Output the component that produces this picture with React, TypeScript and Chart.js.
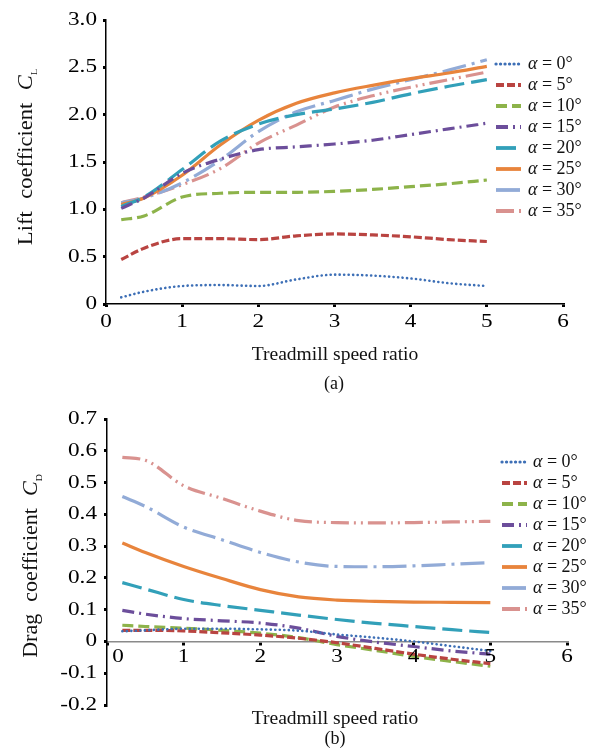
import React, { useEffect, useRef } from 'react';
import { Chart, registerables } from 'chart.js';

Chart.register(...registerables);

// ---------------- data ----------------
const speedRatio = [0.2, 0.5, 1, 1.5, 2, 2.5, 3, 3.5, 4, 4.5, 5];
const angles = [0, 5, 10, 15, 20, 25, 30, 35];
const xTicks = [0, 1, 2, 3, 4, 5, 6];
const liftTicks = [0, 0.5, 1.0, 1.5, 2.0, 2.5, 3.0];
const dragTicks = [-0.2, -0.1, 0, 0.1, 0.2, 0.3, 0.4, 0.5, 0.6, 0.7];

const liftA0 = [0.07, 0.13, 0.19, 0.2, 0.19, 0.26, 0.31, 0.3, 0.27, 0.22, 0.19];
const liftA5 = [0.47, 0.59, 0.69, 0.69, 0.68, 0.72, 0.74, 0.73, 0.71, 0.68, 0.66];
const liftA10 = [0.89, 0.93, 1.13, 1.17, 1.18, 1.18, 1.19, 1.21, 1.24, 1.27, 1.31];
const liftA15 = [1.01, 1.12, 1.38, 1.53, 1.63, 1.66, 1.69, 1.73, 1.79, 1.85, 1.91];
const liftA20 = [1.03, 1.13, 1.42, 1.72, 1.9, 2.0, 2.06, 2.13, 2.22, 2.3, 2.37];
const liftA25 = [1.05, 1.12, 1.36, 1.68, 1.94, 2.12, 2.23, 2.31, 2.38, 2.44, 2.51];
const liftA30 = [1.07, 1.12, 1.28, 1.52, 1.82, 2.03, 2.15, 2.27, 2.37, 2.47, 2.58];
const liftA35 = [1.07, 1.13, 1.26, 1.43, 1.7, 1.89, 2.08, 2.2, 2.29, 2.37, 2.45];

const dragA0 = [0.032, 0.035, 0.04, 0.04, 0.038, 0.034, 0.022, 0.012, 0.0, -0.015, -0.03];
const dragA5 = [0.035, 0.035, 0.033, 0.027, 0.02, 0.01, -0.004, -0.022, -0.04, -0.056, -0.07];
const dragA10 = [0.051, 0.047, 0.042, 0.035, 0.026, 0.012, -0.01, -0.028, -0.047, -0.063, -0.078];
const dragA15 = [0.098, 0.086, 0.072, 0.065, 0.058, 0.042, 0.016, -0.002, -0.016, -0.03, -0.04];
const dragA20 = [0.185, 0.165, 0.132, 0.113, 0.098, 0.083, 0.069, 0.057, 0.047, 0.037, 0.028];
const dragA25 = [0.31, 0.28, 0.236, 0.198, 0.163, 0.14, 0.13, 0.126, 0.124, 0.123, 0.122];
const dragA30 = [0.456, 0.425, 0.36, 0.32, 0.28, 0.25, 0.236, 0.235, 0.238, 0.243, 0.248];
const dragA35 = [0.579, 0.57, 0.49, 0.45, 0.41, 0.38, 0.374, 0.373, 0.374, 0.376, 0.378];

const liftSeries = [liftA0, liftA5, liftA10, liftA15, liftA20, liftA25, liftA30, liftA35];
const dragSeries = [dragA0, dragA5, dragA10, dragA15, dragA20, dragA25, dragA30, dragA35];

// ---------------- styles ----------------
const seriesStyles = [
  { color: '#3d6fb6', dash: [0.1, 4.4], width: 2.6, cap: 'round' },
  { color: '#b94441', dash: [8, 3], width: 3.2, cap: 'butt' },
  { color: '#8db34a', dash: [11, 5], width: 3.2, cap: 'butt' },
  { color: '#6c4e9b', dash: [12, 5, 2, 5], width: 3.2, cap: 'butt' },
  { color: '#32a0b9', dash: [20, 7], width: 3.2, cap: 'butt' },
  { color: '#e8843c', dash: [], width: 3.2, cap: 'butt' },
  { color: '#92abd7', dash: [24, 6, 3, 6], width: 3.2, cap: 'butt' },
  { color: '#d9928f', dash: [18, 5, 2, 5, 2, 5], width: 3.2, cap: 'butt' },
];

const FONT = '"Liberation Serif", "Times New Roman", serif';
const TICK_STRETCH = 1.22;

function makeLegend(p: { x0: number; x1: number; tx: number; y0: number; dy: number; size: number }) {
  return {
    id: 'alphaLegend',
    afterDraw(chart: any) {
      const ctx = chart.ctx;
      chart.data.datasets.forEach((ds: any, i: number) => {
        const y = p.y0 + i * p.dy;
        ctx.save();
        ctx.strokeStyle = ds.borderColor;
        ctx.lineWidth = ds.borderWidth + 0.6;
        ctx.lineCap = ds.borderCapStyle || 'butt';
        ctx.setLineDash(ds.borderDash || []);
        ctx.beginPath();
        ctx.moveTo(p.x0, y);
        ctx.lineTo(p.x1, y);
        ctx.stroke();
        ctx.setLineDash([]);
        ctx.fillStyle = '#111';
        ctx.textBaseline = 'middle';
        ctx.textAlign = 'left';
        const label: string = ds.label;
        ctx.font = `italic ${p.size}px ${FONT}`;
        ctx.fillText(label.charAt(0), p.tx, y);
        const x = p.tx + ctx.measureText(label.charAt(0)).width;
        ctx.font = `${p.size}px ${FONT}`;
        ctx.fillText(label.slice(1), x, y);
        ctx.restore();
      });
    },
  };
}

// tick labels drawn from the library's scales, with the slightly widened glyphs of the original
function makeTickLabels(p: { zeroAxis: boolean; xGap: number; yGap: number; zeroShift: number }) {
  return {
    id: 'wideTicks',
    afterDraw(chart: any) {
      const ctx = chart.ctx;
      const sx = chart.scales.x;
      const sy = chart.scales.y;
      const axisY = p.zeroAxis ? sy.getPixelForValue(0) : chart.chartArea.bottom;
      const axisX = chart.chartArea.left;
      ctx.save();
      ctx.fillStyle = '#000';
      ctx.font = `19px ${FONT}`;
      ctx.textBaseline = 'middle';
      sx.ticks.forEach((t: any) => {
        const px = sx.getPixelForValue(t.value) + (t.value === 0 ? p.zeroShift : 0);
        ctx.save();
        ctx.translate(px, axisY + p.xGap);
        ctx.scale(TICK_STRETCH, 1);
        ctx.textAlign = 'center';
        ctx.fillText(String(t.label), 0, 0);
        ctx.restore();
      });
      sy.ticks.forEach((t: any) => {
        const py = sy.getPixelForValue(t.value);
        ctx.save();
        ctx.translate(axisX - p.yGap, py);
        ctx.scale(TICK_STRETCH, 1);
        ctx.textAlign = 'right';
        ctx.fillText(String(t.label), 0, 0);
        ctx.restore();
      });
      ctx.restore();
    },
  };
}

function buildDatasets(series: number[][]) {
  return series.map((vals, i) => ({
    label: `α = ${angles[i]}°`,
    data: speedRatio.map((x, j) => ({ x, y: vals[j] })),
    borderColor: seriesStyles[i].color,
    backgroundColor: seriesStyles[i].color,
    borderWidth: seriesStyles[i].width,
    borderDash: seriesStyles[i].dash,
    borderCapStyle: seriesStyles[i].cap,
    pointRadius: 0,
    cubicInterpolationMode: 'monotone',
    fill: false,
  }));
}

const fmt = (v: number) => {
  const r = Math.round(v * 10) / 10;
  return r === 0 ? '0' : r.toFixed(1);
};

const tickGrid = { drawOnChartArea: false, drawTicks: true, tickLength: 3, color: '#000', lineWidth: 3 };

function TopChart() {
  const ref = useRef<HTMLCanvasElement>(null);
  useEffect(() => {
    const chart = new Chart(ref.current as HTMLCanvasElement, {
      type: 'line',
      data: { datasets: buildDatasets(liftSeries) as any },
      options: {
        animation: false,
        responsive: false,
        devicePixelRatio: 1,
        layout: { padding: { left: 0, right: 27, top: 20, bottom: 0 } },
        plugins: { legend: { display: false }, tooltip: { enabled: false } },
        scales: {
          x: {
            type: 'linear',
            min: xTicks[0],
            max: xTicks[xTicks.length - 1],
            afterBuildTicks: (s: any) => { s.ticks = xTicks.map((v) => ({ value: v })); },
            ticks: { display: false, callback: (v: any) => String(v) },
            grid: tickGrid,
            border: { color: '#000', width: 1.5 },
            afterFit: (s: any) => { s.height = 86; },
          },
          y: {
            type: 'linear',
            min: liftTicks[0],
            max: liftTicks[liftTicks.length - 1],
            afterBuildTicks: (s: any) => { s.ticks = liftTicks.map((v) => ({ value: v })); },
            ticks: { display: false, callback: (v: any) => fmt(Number(v)) },
            grid: tickGrid,
            border: { color: '#000', width: 1.5 },
            afterFit: (s: any) => { s.width = 106; },
          },
        },
      },
      plugins: [
        makeTickLabels({ zeroAxis: false, xGap: 18, yGap: 9, zeroShift: 0 }),
        makeLegend({ x0: 496, x1: 521, tx: 528, y0: 64, dy: 21, size: 18 }),
      ],
    });
    return () => chart.destroy();
  }, []);
  return <canvas ref={ref} width={590} height={390} style={{ position: 'absolute', left: 0, top: 0, width: 590, height: 390 }} />;
}

function BottomChart() {
  const ref = useRef<HTMLCanvasElement>(null);
  useEffect(() => {
    const chart = new Chart(ref.current as HTMLCanvasElement, {
      type: 'line',
      data: { datasets: buildDatasets(dragSeries) as any },
      options: {
        animation: false,
        responsive: false,
        devicePixelRatio: 1,
        layout: { padding: { left: 0, right: 23, top: 29, bottom: 44 } },
        plugins: { legend: { display: false }, tooltip: { enabled: false } },
        scales: {
          x: {
            type: 'linear',
            position: { y: 0 } as any,
            min: xTicks[0],
            max: xTicks[xTicks.length - 1],
            afterBuildTicks: (s: any) => { s.ticks = xTicks.map((v) => ({ value: v })); },
            ticks: { display: false, callback: (v: any) => String(v) },
            grid: tickGrid,
            border: { color: '#8a8a8a', width: 1.5 },
          },
          y: {
            type: 'linear',
            min: dragTicks[0],
            max: dragTicks[dragTicks.length - 1],
            afterBuildTicks: (s: any) => { s.ticks = dragTicks.map((v) => ({ value: v })); },
            ticks: { display: false, callback: (v: any) => fmt(Number(v)) },
            grid: tickGrid,
            border: { color: '#000', width: 1.5 },
            afterFit: (s: any) => { s.width = 107; },
          },
        },
      },
      plugins: [
        makeTickLabels({ zeroAxis: true, xGap: 16, yGap: 10, zeroShift: 11 }),
        makeLegend({ x0: 502, x1: 527, tx: 533, y0: 72, dy: 21, size: 18 }),
      ],
    });
    return () => chart.destroy();
  }, []);
  return <canvas ref={ref} width={590} height={359} style={{ position: 'absolute', left: 0, top: 390, width: 590, height: 359 }} />;
}

const textBase: React.CSSProperties = {
  position: 'absolute',
  fontFamily: FONT,
  color: '#111',
  whiteSpace: 'nowrap',
  lineHeight: 1,
};

function Label({ cx, cy, size, rotate, children, spacing, stretch }: any) {
  const k = stretch || 1;
  return (
    <div
      style={{
        ...textBase,
        left: cx,
        top: cy,
        fontSize: size,
        wordSpacing: spacing || 0,
        transform: `translate(-50%, -50%)${rotate ? ' rotate(-90deg)' : ''} scaleX(${k})`,
      }}
    >
      {children}
    </div>
  );
}

export default function App() {
  return (
    <div style={{ position: 'absolute', left: 0, top: 0, width: 590, height: 749, background: '#fff', overflow: 'hidden' }}>
      <TopChart />
      <BottomChart />
      <Label cx={27} cy={157} size={20} rotate spacing={6} stretch={1.13}>
        Lift coefficient <i>C</i>
        <sub style={{ fontSize: 9 }}>L</sub>
      </Label>
      <Label cx={335} cy={353} size={19} stretch={1.03}>Treadmill speed ratio</Label>
      <Label cx={334} cy={383} size={18}>(a)</Label>
      <Label cx={32} cy={566} size={20} rotate spacing={6} stretch={1.1}>
        Drag coefficient <i>C</i>
        <sub style={{ fontSize: 9 }}>D</sub>
      </Label>
      <Label cx={335} cy={717} size={19} stretch={1.03}>Treadmill speed ratio</Label>
      <Label cx={335} cy={738} size={18}>(b)</Label>
    </div>
  );
}
